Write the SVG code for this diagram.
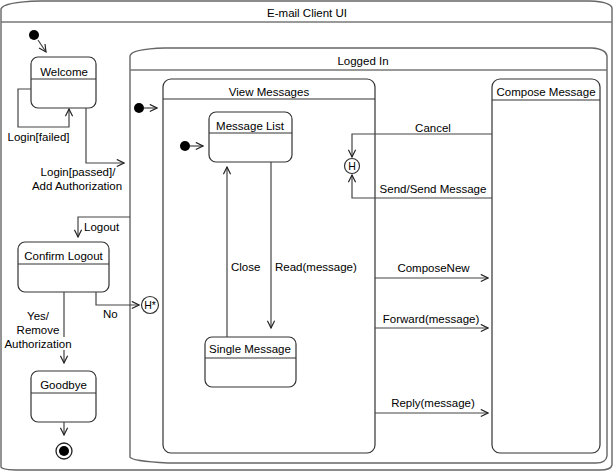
<svg xmlns="http://www.w3.org/2000/svg" width="614" height="472" viewBox="0 0 614 472">
<defs>
<style>
text{font-family:"Liberation Sans",Arial,sans-serif;font-size:11.5px;fill:#000}
.c{text-anchor:middle}
.frame{fill:#fff;stroke:#666;stroke-width:1.4}
.st{fill:#fff;stroke:#333;stroke-width:1.2}
.sep{stroke:#333;stroke-width:1.2}
.fsep{stroke:#777;stroke-width:1.6}
.con{fill:none;stroke:#444;stroke-width:1.2}
.dot{fill:#000}
</style>
<marker id="arr" viewBox="0 0 10 10" refX="9" refY="5" markerWidth="9" markerHeight="9" markerUnits="userSpaceOnUse" orient="auto">
<path d="M1,1 L9,5 L1,9" fill="none" stroke="#222" stroke-width="1.3"/>
</marker>
</defs>
<rect width="614" height="472" fill="#fff"/>

<g id="email-client-ui">
<path class="frame" d="M1,9 Q3,2 40,1 H590 Q611,2 612,8 V465 Q611,470 600,470 H20 Q2,470 1,467 Z"/>
<line class="fsep" x1="1" y1="22" x2="612" y2="22"/>
<text class="c" x="307" y="17">E-mail Client UI</text>
</g>

<g id="logged-in">
<path class="frame" d="M130,56 Q131,49 165,48 H592 Q606,49 607,56 V456 Q606,463 596,463 H168 Q131,461 130,457 Z"/>
<line class="fsep" x1="130" y1="70" x2="607" y2="70"/>
<text class="c" x="363" y="65">Logged In</text>
</g>

<g id="view-messages">
<rect class="st" x="163" y="79" width="212" height="374" rx="8"/>
<line class="sep" x1="163" y1="99" x2="375" y2="99"/>
<text class="c" x="269" y="96">View Messages</text>
</g>

<g id="compose-message">
<rect class="st" x="492" y="79" width="108" height="374" rx="8"/>
<line class="sep" x1="492" y1="100" x2="600" y2="100"/>
<text class="c" x="546" y="96">Compose Message</text>
</g>

<g id="welcome">
<rect class="st" x="31" y="57" width="65" height="51" rx="7"/>
<line class="sep" x1="31" y1="79" x2="96" y2="79"/>
<text class="c" x="64" y="76">Welcome</text>
</g>

<g id="message-list">
<rect class="st" x="209" y="112" width="83" height="50" rx="7"/>
<line class="sep" x1="209" y1="133" x2="292" y2="133"/>
<text class="c" x="250" y="130">Message List</text>
</g>

<g id="single-message">
<rect class="st" x="205" y="337" width="91" height="50" rx="7"/>
<line class="sep" x1="205" y1="358" x2="296" y2="358"/>
<text class="c" x="250" y="353">Single Message</text>
</g>

<g id="confirm-logout">
<rect class="st" x="18" y="242" width="91" height="50" rx="7"/>
<line class="sep" x1="18" y1="264" x2="109" y2="264"/>
<text class="c" x="63.5" y="260">Confirm Logout</text>
</g>

<g id="goodbye">
<rect class="st" x="31" y="371" width="65" height="51" rx="7"/>
<line class="sep" x1="31" y1="393" x2="96" y2="393"/>
<text class="c" x="63.5" y="389">Goodbye</text>
</g>

<g id="initial-top"><circle class="dot" cx="34" cy="35" r="5"/></g>
<g id="initial-logged-in"><circle class="dot" cx="139" cy="108" r="5"/></g>
<g id="initial-view-messages"><circle class="dot" cx="185" cy="146" r="5"/></g>

<g id="history">
<circle cx="352" cy="166" r="7.5" fill="#fff" stroke="#333" stroke-width="1.2"/>
<text class="c" x="352" y="170" style="font-size:10.5px">H</text>
</g>

<g id="deep-history">
<circle cx="150" cy="305" r="8.5" fill="#fff" stroke="#333" stroke-width="1.2"/>
<text class="c" x="150" y="309" style="font-size:10.5px">H*</text>
</g>

<g id="final">
<circle cx="64" cy="451" r="8" fill="#fff" stroke="#222" stroke-width="1.3"/>
<circle class="dot" cx="64" cy="451" r="5"/>
</g>

<g id="connectors">
<path class="con" d="M38,40 L46,52" marker-end="url(#arr)"/>
<path class="con" d="M31,89 H18 V127 H69 V109" marker-end="url(#arr)"/>
<path class="con" d="M86,108 V163 H124" marker-end="url(#arr)"/>
<path class="con" d="M130,217 H78 V237" marker-end="url(#arr)"/>
<path class="con" d="M144,108 H157" marker-end="url(#arr)"/>
<path class="con" d="M190,146 H203" marker-end="url(#arr)"/>
<path class="con" d="M227,337 V167" marker-end="url(#arr)"/>
<path class="con" d="M271,162 V328" marker-end="url(#arr)"/>
<path class="con" d="M492,134 H352 V157" marker-end="url(#arr)"/>
<path class="con" d="M492,198 H352 V175" marker-end="url(#arr)"/>
<path class="con" d="M375,278 H488" marker-end="url(#arr)"/>
<path class="con" d="M375,328 H488" marker-end="url(#arr)"/>
<path class="con" d="M375,413 H488" marker-end="url(#arr)"/>
<path class="con" d="M96,292 V305 H139" marker-end="url(#arr)"/>
<path class="con" d="M64,292 V337"/>
<path class="con" d="M64,350 V363" marker-end="url(#arr)"/>
<path class="con" d="M64,422 V435" marker-end="url(#arr)"/>

<text class="c" x="38.5" y="141">Login[failed]</text>
<text class="c" x="78" y="176">Login[passed]/</text>
<text class="c" x="77" y="190">Add Authorization</text>
<text x="84" y="231">Logout</text>
<text class="c" x="38" y="320">Yes/</text>
<text class="c" x="38" y="334">Remove</text>
<text class="c" x="38" y="348">Authorization</text>
<text x="103" y="318">No</text>
<text x="231" y="271">Close</text>
<text x="275" y="271">Read(message)</text>
<text class="c" x="433" y="132">Cancel</text>
<text class="c" x="433" y="193">Send/Send Message</text>
<text class="c" x="433.5" y="272">ComposeNew</text>
<text class="c" x="431" y="323">Forward(message)</text>
<text class="c" x="433" y="407">Reply(message)</text>
</g>
</svg>
